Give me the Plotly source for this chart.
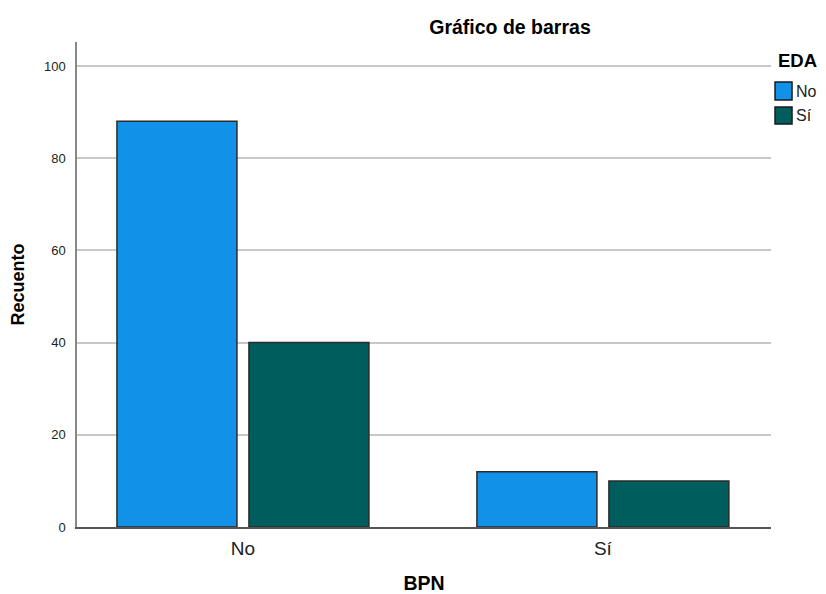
import plotly.graph_objects as go

categories = ["No", "Sí"]
eda_no = [88, 12]
eda_si = [40, 10]
series_names = ["No", "Sí"]
colors = ["#1192e8", "#005d5d"]
legend_title = "EDA"

fig = go.Figure()
for name, vals, col in zip(series_names, [eda_no, eda_si], colors):
    fig.add_trace(go.Bar(
        x=categories, y=vals, name=name,
        marker=dict(color=col, line=dict(color="#2b2b2b", width=1.5)),
    ))

# legend drawn in paper coordinates (plot area spans 0..1)
sq_x0, sq_x1 = 1.0058, 1.0303
sq_rows = [(0.8804, 0.9175), (0.8309, 0.8660)]
shapes = []
annotations = []
for (y0, y1), name, col in zip(sq_rows, series_names, colors):
    shapes.append(dict(type="rect", xref="paper", yref="paper",
                       x0=sq_x0, x1=sq_x1, y0=y0, y1=y1,
                       fillcolor=col, line=dict(color="#1a1a1a", width=1.5)))
    annotations.append(dict(xref="paper", yref="paper", x=1.0325, y=(y0 + y1) / 2,
                            xanchor="left", yanchor="middle", showarrow=False,
                            text=name, font=dict(size=16, color="#222")))
annotations.append(dict(xref="paper", yref="paper", x=1.0375, y=0.961,
                        xanchor="center", yanchor="middle", showarrow=False,
                        text="<b>%s</b>" % legend_title, font=dict(size=18.5, color="#000")))

fig.update_layout(
    width=818, height=586,
    margin=dict(l=69, r=55, t=34, b=67, autoexpand=False),
    paper_bgcolor="white", plot_bgcolor="white",
    font=dict(family="Liberation Sans, Arial, sans-serif", color="#000"),
    barmode="group", bargap=0.2667, bargroupgap=0.0909,
    title=dict(text="<b>Gráfico de barras</b>", x=0.6137, xanchor="center",
               y=1 - 19 / 586, yanchor="middle", font=dict(size=19.5)),
    showlegend=False,
    shapes=shapes, annotations=annotations,
)
fig.update_xaxes(
    range=[-0.461, 1.467], showline=True, linecolor="#555", linewidth=1.5,
    showgrid=False, ticks="", tickfont=dict(size=19, color="#222"),
    ticklabelstandoff=3,
    title=dict(text="<b>BPN</b>", font=dict(size=19.5), standoff=19),
)
fig.update_yaxes(
    range=[0, 105.2], showline=True, linecolor="#888", linewidth=1.5,
    showgrid=True, gridcolor="#c8c8c8", gridwidth=1.5, dtick=20,
    ticks="", tickfont=dict(size=13, color="#222"), zeroline=False,
    ticklabelstandoff=7,
    title=dict(text="<b>Recuento</b>", font=dict(size=18), standoff=16),
)
fig.write_html("out.html")
